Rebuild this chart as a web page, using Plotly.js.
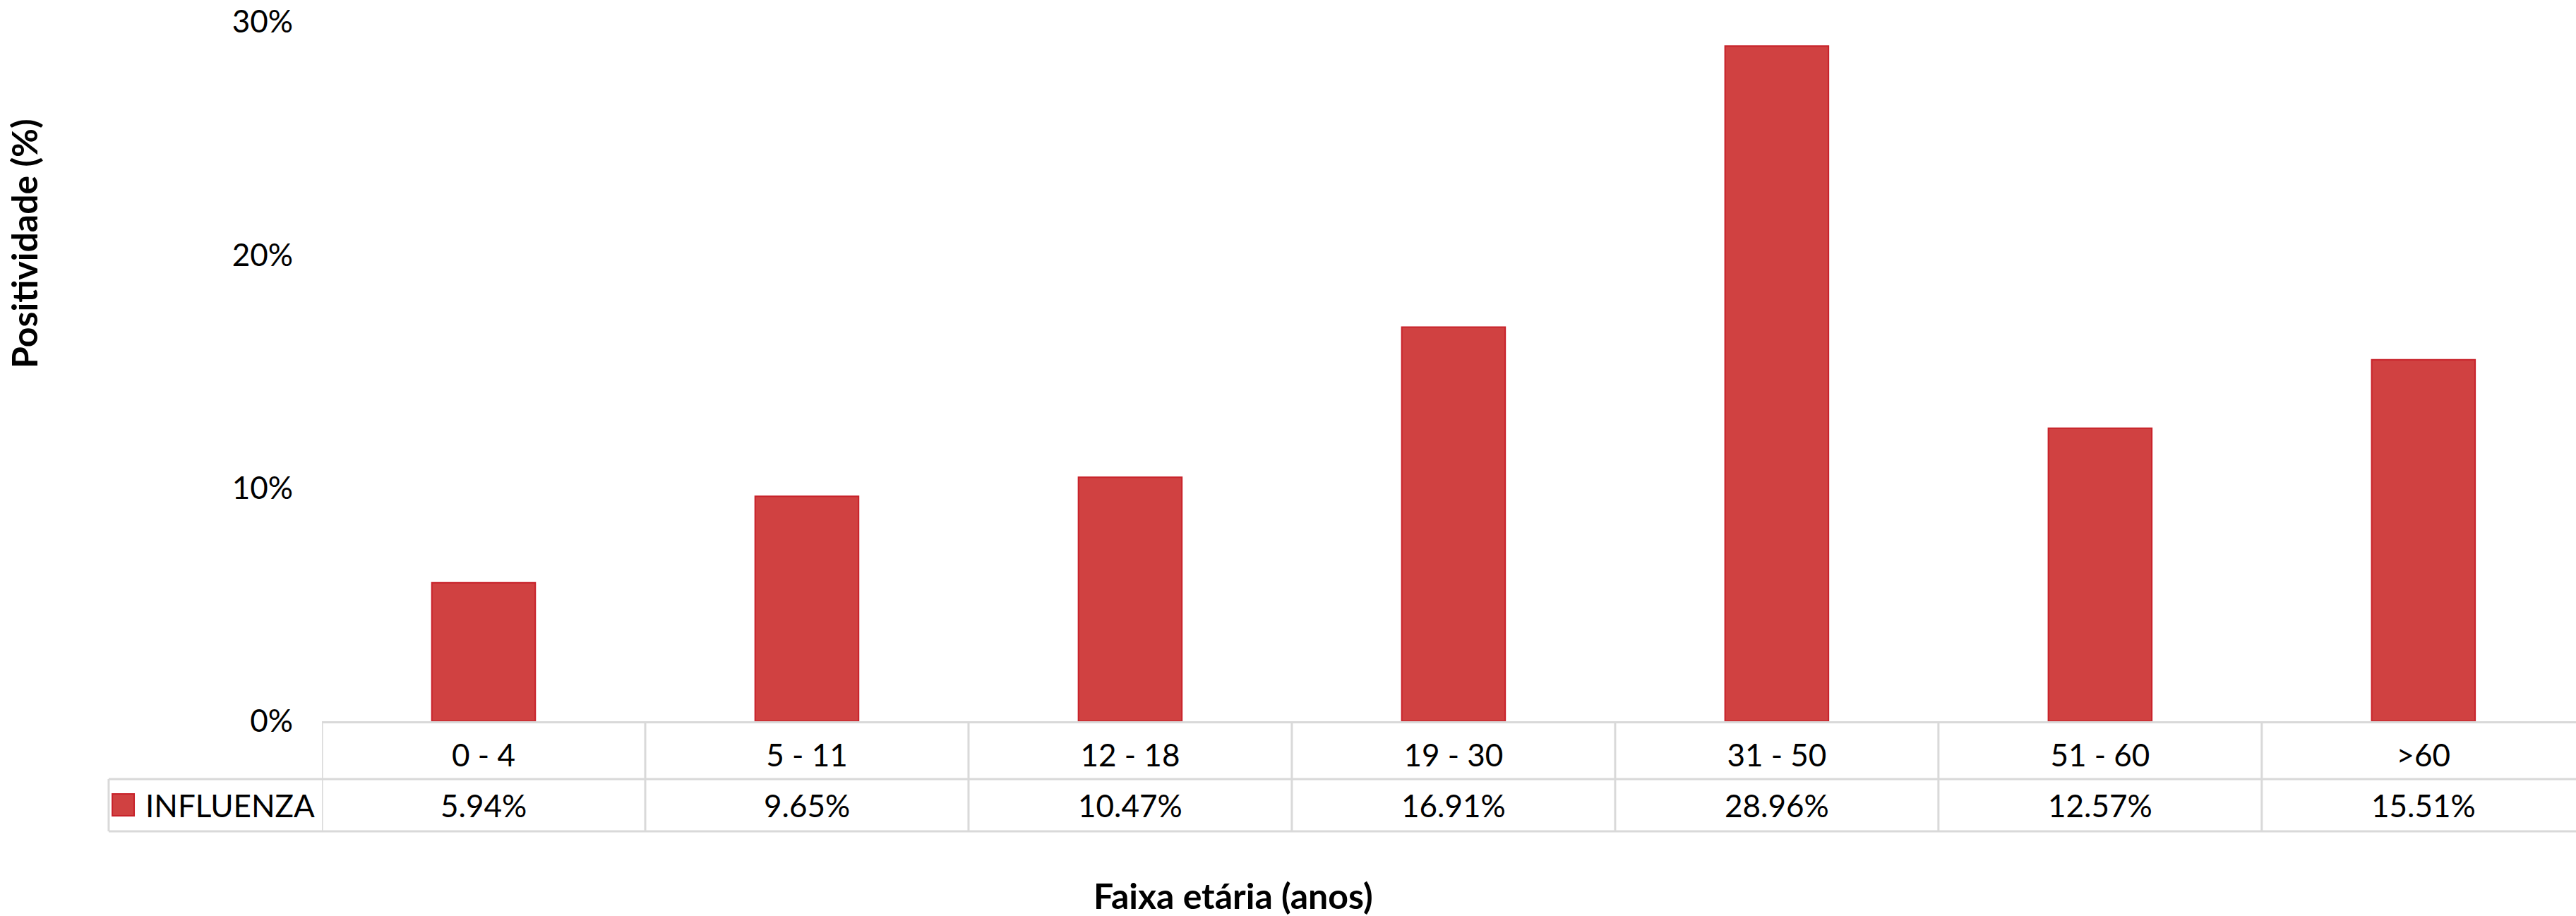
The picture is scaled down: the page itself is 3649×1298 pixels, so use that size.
<!DOCTYPE html>
<html>
<head>
<meta charset="utf-8">
<script src="https://cdn.plot.ly/plotly-3.0.1.min.js"></script>
<style>
    html, body { margin: 0; padding: 0; background: #fff; overflow: hidden; }
    #chart { width: 3649px; height: 1298px; }
</style>
</head>
<body>
<div id="chart"></div>
<script>
// Positividade de INFLUENZA por faixa etária
const faixas = ['0 - 4', '5 - 11', '12 - 18', '19 - 30', '31 - 50', '51 - 60', '>60'];
const influenza = [0.0594, 0.0965, 0.1047, 0.1691, 0.2896, 0.1257, 0.1551];
const serieNome = 'INFLUENZA';
const yTicks = [0, 0.1, 0.2, 0.3];

const FONT = 'Lato, "Open Sans", sans-serif';
const GRID = '#d9d9d9';
const RED = '#d04141';
const RED_EDGE = '#c8222a';

// table rows sit below the plot, in paper units
const ROW1_BOTTOM = -0.0827;
const ROW2_BOTTOM = -0.1574;
const LEGEND_LEFT = -0.0946;

const trace = {
    type: 'bar',
    x: faixas,
    y: influenza,
    width: 0.32,
    marker: { color: RED, line: { color: RED_EDGE, width: 2 } },
    hoverinfo: 'x+y',
    showlegend: false,
};

const shapes = [
    // horizontal table rules
    { type: 'line', xref: 'paper', yref: 'paper', x0: LEGEND_LEFT, x1: 1, y0: ROW1_BOTTOM, y1: ROW1_BOTTOM, line: { color: GRID, width: 3 } },
    { type: 'line', xref: 'paper', yref: 'paper', x0: LEGEND_LEFT, x1: 1, y0: ROW2_BOTTOM, y1: ROW2_BOTTOM, line: { color: GRID, width: 3 } },
    // legend cell left edge
    { type: 'line', xref: 'paper', yref: 'paper', x0: LEGEND_LEFT, x1: LEGEND_LEFT, y0: ROW2_BOTTOM, y1: ROW1_BOTTOM, line: { color: GRID, width: 3 } },
    // legend key
    { type: 'rect', xref: 'paper', yref: 'paper', x0: -0.0930, x1: -0.0833, y0: -0.1352, y1: -0.1039, fillcolor: RED, line: { color: RED_EDGE, width: 2 } },
];
// column dividers at category boundaries
for (let i = 0; i <= faixas.length; i++) {
    shapes.push({ type: 'line', xref: 'x', yref: 'paper', x0: i - 0.5, x1: i - 0.5, y0: ROW2_BOTTOM, y1: 0, line: { color: GRID, width: 3 } });
}

const annotations = influenza.map((v, i) => ({
    xref: 'x', yref: 'paper', x: faixas[i], y: (ROW1_BOTTOM + ROW2_BOTTOM) / 2,
    text: (v * 100).toFixed(2) + '%', showarrow: false,
    xanchor: 'center', yanchor: 'middle',
    font: { family: FONT, size: 44, color: '#000' },
}));
annotations.push(
    {
        xref: 'paper', yref: 'paper', x: -0.0790, y: (ROW1_BOTTOM + ROW2_BOTTOM) / 2,
        text: serieNome, showarrow: false, xanchor: 'left', yanchor: 'middle',
        font: { family: FONT, size: 44, color: '#000' },
    },
    {
        xref: 'paper', yref: 'paper', x: -0.1322, y: 0.683,
        text: 'Positividade (%)', showarrow: false, textangle: -90,
        xanchor: 'center', yanchor: 'middle',
        font: { family: FONT, size: 50, color: '#000', weight: 'bold' },
    },
    {
        xref: 'paper', yref: 'paper', x: 0.4043, y: -0.2492,
        text: 'Faixa etária (anos)', showarrow: false,
        xanchor: 'center', yanchor: 'middle',
        font: { family: FONT, size: 50, color: '#000', weight: 'bold' },
    }
);

const layout = {
    width: 3649,
    height: 1298,
    margin: { l: 456, r: 0, t: 31, b: 276, pad: 0 },
    paper_bgcolor: '#fff',
    plot_bgcolor: '#fff',
    font: { family: FONT, color: '#000', size: 44 },
    showlegend: false,
    xaxis: {
        type: 'category',
        range: [-0.5, 6.472],
        showgrid: false,
        zeroline: false,
        showline: true,
        linecolor: GRID,
        linewidth: 3,
        ticks: '',
        ticklabelstandoff: 8,
        tickfont: { family: FONT, size: 44, color: '#000' },
        fixedrange: true,
    },
    yaxis: {
        range: [0, 0.30],
        tickvals: yTicks,
        tickformat: '.0%',
        showgrid: false,
        zeroline: false,
        showline: false,
        ticks: '',
        ticklabelstandoff: 40,
        tickfont: { family: FONT, size: 44, color: '#000' },
        fixedrange: true,
    },
    bargap: 0,
    shapes: shapes,
    annotations: annotations,
};

Plotly.newPlot('chart', [trace], layout, { displayModeBar: false, staticPlot: true });
</script>
</body>
</html>
